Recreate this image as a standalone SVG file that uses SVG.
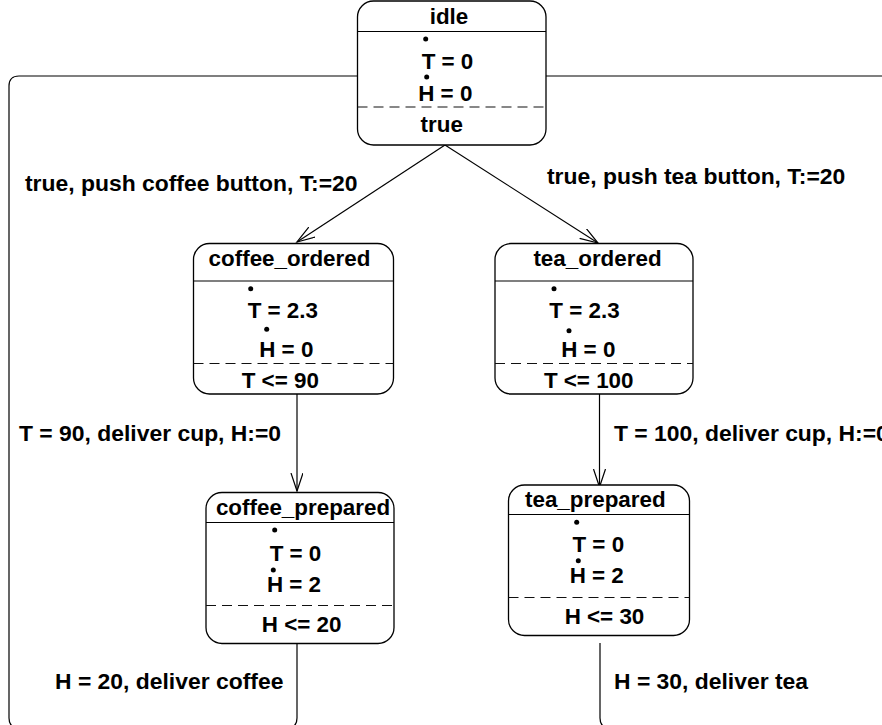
<svg xmlns="http://www.w3.org/2000/svg" width="882" height="725" viewBox="0 0 882 725">
  <style>
    .box { fill: #ffffff; stroke: #000000; stroke-width: 1.3; }
    .sep { stroke: #000000; stroke-width: 1.2; fill: none; }
    .inv { stroke: #111111; stroke-width: 1.2; stroke-dasharray: 10 6; fill: none; }
    .dot { fill: #000000; }
    .edge { stroke: #000000; stroke-width: 1.2; fill: none; }
    text { font-family: "Liberation Sans", Arial, Helvetica, sans-serif; font-weight: bold; font-size: 22.4px; fill: #000000; }
    .lbl { font-size: 22.9px; }
    .c { text-anchor: middle; }
  </style>
  <defs>
    <marker id="open-arrow" markerUnits="userSpaceOnUse" markerWidth="20" markerHeight="14" refX="18" refY="6" orient="auto">
      <path d="M0,0 L18,6 L0,12" fill="none" stroke="#000000" stroke-width="1.2"/>
    </marker>
  </defs>
  <rect width="882" height="725" fill="#ffffff"/>

  <!-- transitions -->
  <g id="connectors">
    <path class="edge" d="M445,145 L297,242" marker-end="url(#open-arrow)"/>
    <path class="edge" d="M445,145 L598,243" marker-end="url(#open-arrow)"/>
    <path class="edge" d="M297,394 V491" marker-end="url(#open-arrow)"/>
    <path class="edge" d="M599.5,394 V487" marker-end="url(#open-arrow)"/>
    <path class="edge" d="M297,644 V718 Q297,728 287,728 H19 Q9,728 9,718 V86 Q9,76 19,76 H357.5"/>
    <path class="edge" d="M600,643 V718 Q600,728 610,728 H895 V76 H546"/>
    <text class="lbl" x="25" y="191">true, push coffee button, T:=20</text>
    <text class="lbl" x="547" y="184">true, push tea button, T:=20</text>
    <text class="lbl" x="19" y="441">T = 90, deliver cup, H:=0</text>
    <text class="lbl" x="614" y="441">T = 100, deliver cup, H:=0</text>
    <text class="lbl" x="55" y="689">H = 20, deliver coffee</text>
    <text class="lbl" x="614" y="689">H = 30, deliver tea</text>
  </g>

  <g id="idle">
    <rect class="box" x="357.5" y="1" width="188.5" height="144" rx="16"/>
    <line class="sep" x1="357.5" y1="31.5" x2="546" y2="31.5"/>
    <line class="inv" x1="357.5" y1="107" x2="546" y2="107"/>
    <text class="c" x="449" y="24">idle</text>
    <circle class="dot" cx="425.7" cy="39" r="2.5"/>
    <text class="c" x="447.5" y="69">T = 0</text>
    <circle class="dot" cx="426.7" cy="77" r="2.5"/>
    <text class="c" x="445.3" y="100.5">H = 0</text>
    <text class="c" x="441.7" y="132">true</text>
  </g>

  <g id="coffee_ordered">
    <rect class="box" x="193.5" y="243.5" width="200" height="150.5" rx="16"/>
    <line class="sep" x1="193.5" y1="281" x2="393.5" y2="281"/>
    <line class="inv" x1="193.5" y1="363.5" x2="393.5" y2="363.5"/>
    <text class="c" x="289.5" y="266">coffee_ordered</text>
    <circle class="dot" cx="250.7" cy="288.7" r="2.5"/>
    <text class="c" x="282.8" y="318.3">T = 2.3</text>
    <circle class="dot" cx="266.7" cy="329.3" r="2.5"/>
    <text class="c" x="286.3" y="357.3">H = 0</text>
    <text class="c" x="280.3" y="388.3">T &lt;= 90</text>
  </g>

  <g id="tea_ordered">
    <rect class="box" x="495" y="243.5" width="198" height="150.5" rx="16"/>
    <line class="sep" x1="495" y1="281" x2="693" y2="281"/>
    <line class="inv" x1="495" y1="363.5" x2="693" y2="363.5"/>
    <text class="c" x="597.5" y="266">tea_ordered</text>
    <circle class="dot" cx="554" cy="288.7" r="2.5"/>
    <text class="c" x="584.5" y="318.3">T = 2.3</text>
    <circle class="dot" cx="569" cy="330.7" r="2.5"/>
    <text class="c" x="588.3" y="357.3">H = 0</text>
    <text class="c" x="588.7" y="388.3">T &lt;= 100</text>
  </g>

  <g id="coffee_prepared">
    <rect class="box" x="206" y="492.5" width="188" height="151" rx="16"/>
    <line class="sep" x1="206" y1="522.5" x2="394" y2="522.5"/>
    <line class="inv" x1="206" y1="605.5" x2="394" y2="605.5"/>
    <text class="c" x="303" y="515">coffee_prepared</text>
    <circle class="dot" cx="274.7" cy="530" r="2.5"/>
    <text class="c" x="295.5" y="560.7">T = 0</text>
    <circle class="dot" cx="273.3" cy="570" r="2.5"/>
    <text class="c" x="294" y="591.7">H = 2</text>
    <text class="c" x="301.7" y="631.7">H &lt;= 20</text>
  </g>

  <g id="tea_prepared">
    <rect class="box" x="508.5" y="485" width="181" height="150.5" rx="16"/>
    <line class="sep" x1="508.5" y1="514.5" x2="689.5" y2="514.5"/>
    <line class="inv" x1="508.5" y1="597.5" x2="689.5" y2="597.5"/>
    <text class="c" x="595.3" y="506.7">tea_prepared</text>
    <circle class="dot" cx="576.7" cy="522.3" r="2.5"/>
    <text class="c" x="598.3" y="551.7">T = 0</text>
    <circle class="dot" cx="578.3" cy="560.7" r="2.5"/>
    <text class="c" x="596.7" y="583.3">H = 2</text>
    <text class="c" x="604.5" y="624">H &lt;= 30</text>
  </g>
</svg>
